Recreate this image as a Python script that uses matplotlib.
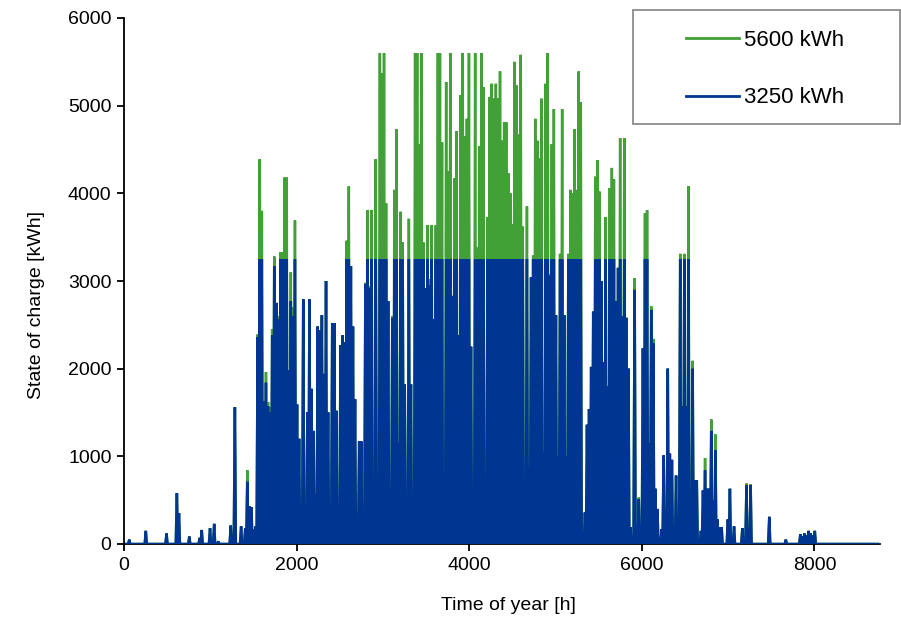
import numpy as np
import matplotlib
matplotlib.use("Agg")
import matplotlib.pyplot as plt
from matplotlib.lines import Line2D
from matplotlib.patches import Rectangle

plt.rcParams['font.family'] = ['Liberation Sans', 'DejaVu Sans']

# daily peak state of charge [kWh], one value per day
# battery 3250 kWh
peak_3250_winter = [0, 0, 50, 0, 0, 0, 0, 0, 0, 0,
                    150, 0, 0, 0, 0, 0, 0, 0, 0, 0,
                    120, 0, 0, 0, 0, 580, 350, 0, 0, 0,
                    0, 85, 0, 0, 0, 0, 70, 160, 0, 0,
                    0, 180, 0, 230, 0, 30, 0, 0, 0, 0,
                    0, 210, 0, 1560, 0, 0, 200, 0, 180, 710,
                    430]
peak_3250_spring = [420, 170, 200, 2360, 3250, 3250, 1630, 1840, 1570, 1500,
                    2380, 3170, 2750, 2560, 3250, 3250, 3250, 3250, 1980, 2770,
                    2600, 3250, 1590, 1200, 420, 2790, 420, 1500, 2790, 1770,
                    1290, 570, 2480, 2440, 2610, 1940, 3000, 1500, 70, 2520,
                    2520, 1520, 30, 2270, 2380, 2300,
                    3250, 3250, 3170, 2480, 1650, 190, 1170, 1170, 190, 2960,
                    3250, 2920, 3250, 418, 3250, 207, 3250, 3250, 3250, 3250,
                    2770, 573, 2580, 3250, 3250, 1150, 3250, 3250, 1820, 167,
                    3250, 1820, 530, 3250, 3250, 3250, 3250, 3250, 2920, 3250,
                    2950, 3250, 2560, 3250, 3250, 3250]
peak_3250_summer = [3250, 800, 3250, 3250, 3250, 2830, 3250, 3250, 2380, 3250,
                    3250, 3250, 3250, 3250, 2250, 500, 3250, 3250, 3250, 3250,
                    3250, 20, 3250, 3250, 3250, 3250, 3250, 3250, 3250, 3250,
                    3250, 3250, 3250, 3250, 3250, 3250, 3250, 3250, 3250, 3250,
                    80, 3250, 880, 3040, 3250, 3250, 3250,
                    3250, 3250, 1050, 3250, 3250, 3060, 3250, 3250, 2610, 1000,
                    3250, 3250, 2610, 1000, 3250, 3250, 3250, 3250, 3250, 3250,
                    3250, 20, 360, 1360, 1540, 2020, 2650, 3250, 3250, 3250,
                    3000, 2070, 3250, 1800, 3250, 3250, 3250, 2770, 3150, 3250,
                    2600, 3250, 2580, 2000, 190, 70]
peak_3250_autumn = [2900, 150, 510, 110, 2230, 3250, 3250, 1150, 2670, 2290,
                    630, 400, 70, 170, 1010, 380, 2000, 1030, 960, 90,
                    780, 210, 3250, 1570, 3250, 1570, 3250, 340, 2000, 730,
                    730, 50, 150, 610, 840, 630, 630, 1290, 500, 1070,
                    280, 190, 190, 0, 0, 280, 630,
                    0, 200, 0, 0, 0, 180, 0, 670, 180, 670,
                    0, 0, 0, 0, 0, 0, 0, 0, 310, 0,
                    0, 0, 0, 0, 0, 0, 50, 0, 0, 0,
                    0, 0, 0, 110, 90, 120, 100, 150, 120, 100,
                    150, 0, 0, 0, 0, 0, 0, 0, 0, 0,
                    0, 0, 0, 0, 0, 0, 0, 0, 0, 0,
                    0, 0, 0, 0, 0, 0, 0, 0, 0, 0, 0]

# battery 5600 kWh
peak_5600_winter = [0, 0, 50, 0, 0, 0, 0, 0, 0, 0,
                    150, 0, 0, 0, 0, 0, 0, 0, 0, 0,
                    120, 0, 0, 0, 0, 580, 350, 0, 0, 0,
                    0, 85, 0, 0, 0, 0, 70, 160, 0, 0,
                    0, 180, 0, 230, 0, 30, 0, 0, 0, 0,
                    0, 210, 0, 1560, 0, 0, 200, 0, 180, 840,
                    430]
peak_5600_spring = [420, 170, 200, 2390, 4390, 3800, 1630, 1960, 1620, 1560,
                    2450, 3280, 2750, 2600, 3330, 3330, 4180, 4180, 1980, 3100,
                    2700, 3690, 1590, 1200, 420, 2790, 420, 1500, 2790, 1770,
                    1290, 570, 2480, 2440, 2610, 1940, 3000, 1500, 70, 2520,
                    2520, 1520, 30, 2270, 2380, 2300,
                    3460, 4080, 3170, 2480, 1650, 190, 1170, 1170, 190, 2980,
                    3810, 2940, 3810, 418, 4390, 207, 5600, 5370, 5600, 3885,
                    2770, 573, 2600, 4040, 4730, 1150, 3790, 3440, 1820, 167,
                    3710, 1820, 530, 5600, 5600, 4560, 5600, 3440, 2920, 3635,
                    3020, 3635, 2560, 3635, 5600, 5600]
peak_5600_summer = [4580, 800, 5270, 4250, 5600, 2830, 4170, 4710, 2380, 5120,
                    5600, 4650, 4850, 5600, 2250, 500, 5600, 3380, 4540, 5600,
                    5210, 20, 3730, 5100, 5250, 5080, 5250, 5080, 5390, 4600,
                    4810, 4810, 4230, 4000, 3650, 5500, 5230, 4670, 5580, 3620,
                    80, 3850, 880, 3040, 3290, 4850, 4600,
                    4400, 5080, 1050, 5250, 5600, 3080, 4560, 4960, 2610, 1000,
                    3310, 4960, 2610, 1000, 3310, 4040, 4000, 4730, 4040, 5390,
                    5040, 20, 360, 1360, 1540, 2020, 2650, 4190, 4380, 4020,
                    3000, 2070, 3730, 1800, 4060, 4290, 4160, 2770, 3150, 4630,
                    2600, 4630, 2580, 2000, 190, 70]
peak_5600_autumn = [3030, 150, 530, 110, 2230, 3770, 3810, 1150, 2710, 2340,
                    630, 400, 70, 170, 1010, 380, 2000, 1030, 960, 90,
                    780, 210, 3310, 1570, 3310, 1570, 4080, 340, 2090, 730,
                    730, 50, 150, 610, 980, 630, 630, 1420, 500, 1250,
                    280, 190, 190, 0, 0, 280, 630,
                    0, 200, 0, 0, 0, 180, 0, 690, 180, 680,
                    0, 0, 0, 0, 0, 0, 0, 0, 310, 0,
                    0, 0, 0, 0, 0, 0, 50, 0, 0, 0,
                    0, 0, 0, 110, 90, 120, 100, 150, 120, 100,
                    150, 0, 0, 0, 0, 0, 0, 0, 0, 0,
                    0, 0, 0, 0, 0, 0, 0, 0, 0, 0,
                    0, 0, 0, 0, 0, 0, 0, 0, 0, 0, 0]

labels = ['5600 kWh', '3250 kWh']
colors = ['#41a036', '#003591']


def daily_profile(peaks):
    # empty at midnight, full in the early afternoon
    peaks = np.asarray(peaks, dtype=float)
    start = np.arange(len(peaks)) * 24
    x = np.column_stack([start, start + 13]).ravel()
    y = np.column_stack([np.zeros(len(peaks)), peaks]).ravel()
    return np.append(x, 24 * len(peaks)), np.append(y, 0)


soc_5600 = peak_5600_winter + peak_5600_spring + peak_5600_summer + peak_5600_autumn
soc_3250 = peak_3250_winter + peak_3250_spring + peak_3250_summer + peak_3250_autumn

fig = plt.figure(figsize=(9.01, 6.21), dpi=100)
ax = fig.add_axes([124 / 901, 1 - 544 / 621, (880 - 124) / 901, (544 - 18) / 621])

for peaks, color in zip([soc_5600, soc_3250], colors):
    x, y = daily_profile(peaks)
    ax.plot(x, y, color=color, lw=1.8, solid_joinstyle='miter', zorder=3)

ax.set_xlim(0, 8760)
ax.set_ylim(0, 6000)
ax.set_xticks([0, 2000, 4000, 6000, 8000])
ax.set_yticks(range(0, 6001, 1000))
ax.tick_params(direction='out', length=5, width=1.3, labelsize=14, colors='black', pad=4)
for side in ['top', 'right']:
    ax.spines[side].set_visible(False)
for side in ['left', 'bottom']:
    ax.spines[side].set_linewidth(1.3)
ax.spines['left'].set_zorder(4)

ax.set_xlabel('Time of year [h]', fontsize=14)
ax.set_ylabel('State of charge [kWh]', fontsize=14)
ax.xaxis.set_label_coords(0.508, -0.100)
ax.yaxis.set_label_coords(-0.104, 0.454)

# legend box like the original, framed on the figure
fig.patches.append(Rectangle((633 / 901, 1 - 124 / 621), 267 / 901, 114 / 621,
                             transform=fig.transFigure, facecolor='white',
                             edgecolor='#8c8c8c', lw=1.3, zorder=5))
handles = [Line2D([], [], color=c, lw=2) for c in colors]
leg = fig.legend(handles, labels, loc='center', bbox_to_anchor=(765 / 901, 1 - 69 / 621),
                 frameon=False, fontsize=16, handlelength=2.4, handletextpad=0.22,
                 labelspacing=1.65)
leg.set_zorder(6)

fig.savefig('out.png', dpi=100)
